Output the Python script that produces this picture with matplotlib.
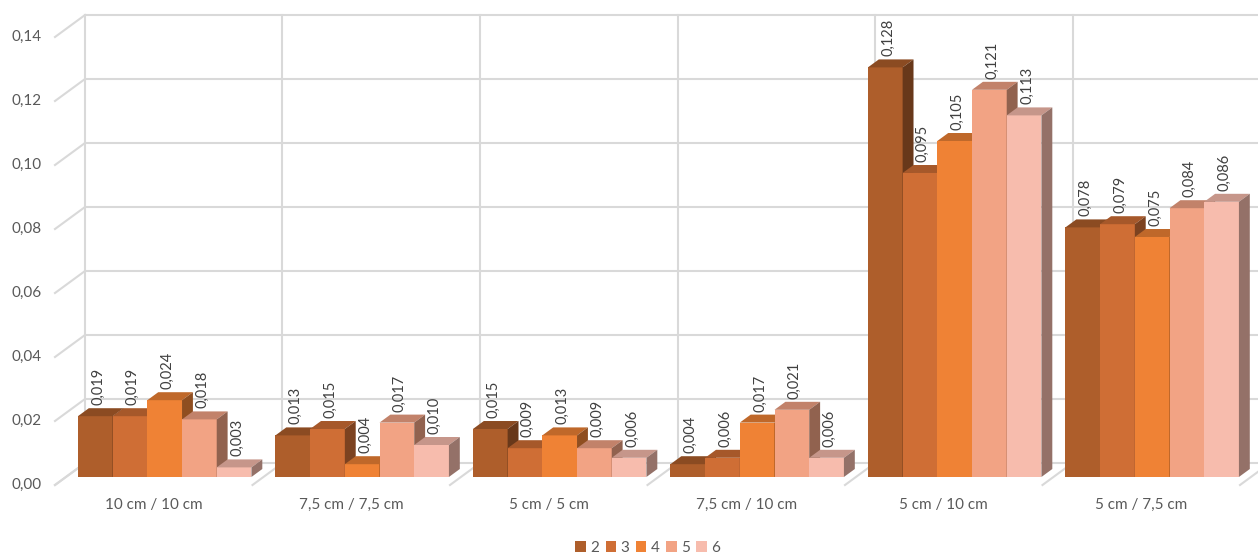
import matplotlib
matplotlib.use("Agg")
import matplotlib.pyplot as plt
from matplotlib.colors import to_rgb
from matplotlib.patches import Patch

plt.rcParams["font.family"] = ["Lato", "DejaVu Sans"]

categories = ["10 cm / 10 cm", "7,5 cm / 7,5 cm", "5 cm / 5 cm",
              "7,5 cm / 10 cm", "5 cm / 10 cm", "5 cm / 7,5 cm"]
series_names = ["2", "3", "4", "5", "6"]
s2 = [0.019, 0.013, 0.015, 0.004, 0.128, 0.078]
s3 = [0.019, 0.015, 0.009, 0.006, 0.095, 0.079]
s4 = [0.024, 0.004, 0.013, 0.017, 0.105, 0.075]
s5 = [0.018, 0.017, 0.009, 0.021, 0.121, 0.084]
s6 = [0.003, 0.010, 0.006, 0.006, 0.113, 0.086]
series_values = [s2, s3, s4, s5, s6]
yticks = [0.00, 0.02, 0.04, 0.06, 0.08, 0.10, 0.12, 0.14]

colors = ["#AE5E2B", "#CF6E35", "#EF8235", "#F2A384", "#F7BCAD"]
GRID = "#D9D9D9"
AXIS_TXT = "#595959"
LABEL_TXT = "#404040"

# one category = 197.5 px, 0.02 = 64 px
PX_X = 1 / 197.5
PX_Y = 0.02 / 64
DEPTH_X = 30 * PX_X     # full depth of the floor, front plane -> back wall
DEPTH_Y = 22 * PX_Y
F_FRONT = 0.364         # bar front face as fraction of the depth
F_BACK = 0.727
GAP = 12 * PX_X
BAR_W = (1 - 2 * GAP) / len(series_names)


def shade(c, k):
    r, g, b = to_rgb(c)
    return (r * k, g * k, b * k)


fig = plt.figure(figsize=(12.58, 5.54), dpi=100)
ax = fig.add_axes([0, 0, 1, 1])
ax.set_xlim(-55 * PX_X, (1258 - 55) * PX_X)
ax.set_ylim(-(554 - 485) * PX_Y, 485 * PX_Y)
ax.axis("off")

n_cat = len(categories)
ymax = yticks[-1]

# back wall and side wall grid
for t in yticks:
    ax.plot([DEPTH_X, n_cat + DEPTH_X], [t + DEPTH_Y, t + DEPTH_Y],
            color=GRID, lw=1.5, zorder=1, solid_capstyle="butt")
    ax.plot([0, DEPTH_X], [t, t + DEPTH_Y], color=GRID, lw=1.5, zorder=1)
    ax.text(-13 * PX_X, t, f"{t:.2f}".replace(".", ","), ha="right", va="center",
            fontsize=11, color=AXIS_TXT)
for i in range(n_cat + 1):
    ax.plot([i + DEPTH_X, i + DEPTH_X], [DEPTH_Y, ymax + DEPTH_Y],
            color=GRID, lw=1.5, zorder=1)
    ax.plot([i, i + DEPTH_X], [0, DEPTH_Y], color=GRID, lw=1.5, zorder=1)

for i, name in enumerate(categories):
    ax.text(i + 0.5, -20 * PX_Y, name, ha="center", va="center",
            fontsize=11, color=AXIS_TXT)

# 3D-looking columns: front, top and right side faces
dx0, dy0 = F_FRONT * DEPTH_X, F_FRONT * DEPTH_Y
dx1, dy1 = F_BACK * DEPTH_X, F_BACK * DEPTH_Y
labels = []
for g in range(n_cat):
    for s, vals in enumerate(series_values):
        v = vals[g]
        c = colors[s]
        x0 = g + GAP + s * BAR_W
        x1 = x0 + BAR_W
        ax.fill([x0 + dx0, x1 + dx0, x1 + dx0, x0 + dx0],
                [dy0, dy0, v + dy0, v + dy0], color=c, lw=0, zorder=3)
        ax.fill([x0 + dx0, x1 + dx0, x1 + dx1, x0 + dx1],
                [v + dy0, v + dy0, v + dy1, v + dy1],
                color=shade(c, 0.8), lw=0, zorder=3)
        ax.fill([x1 + dx0, x1 + dx1, x1 + dx1, x1 + dx0],
                [dy0, dy1, v + dy1, v + dy0],
                color=shade(c, 0.6), lw=0, zorder=3)
        labels.append((x0 + BAR_W / 2 + 0.46 * DEPTH_X, v + dy1 + 3 * PX_Y, v))

for x, y, v in labels:
    ax.text(x, y, f"{v:.3f}".replace(".", ","), rotation=90, ha="center",
            va="bottom", fontsize=10.5, color=LABEL_TXT, zorder=5)

handles = [Patch(facecolor=c, edgecolor="none", label=n)
           for c, n in zip(colors, series_names)]
fig.legend(handles=handles, loc="center", bbox_to_anchor=(0.515, 1 - 548 / 554),
           ncol=5, frameon=False, fontsize=11, handlelength=0.7, handleheight=0.7,
           handletextpad=0.3, columnspacing=0.4, labelcolor=AXIS_TXT)

fig.savefig("out.png", dpi=100, facecolor="white")
